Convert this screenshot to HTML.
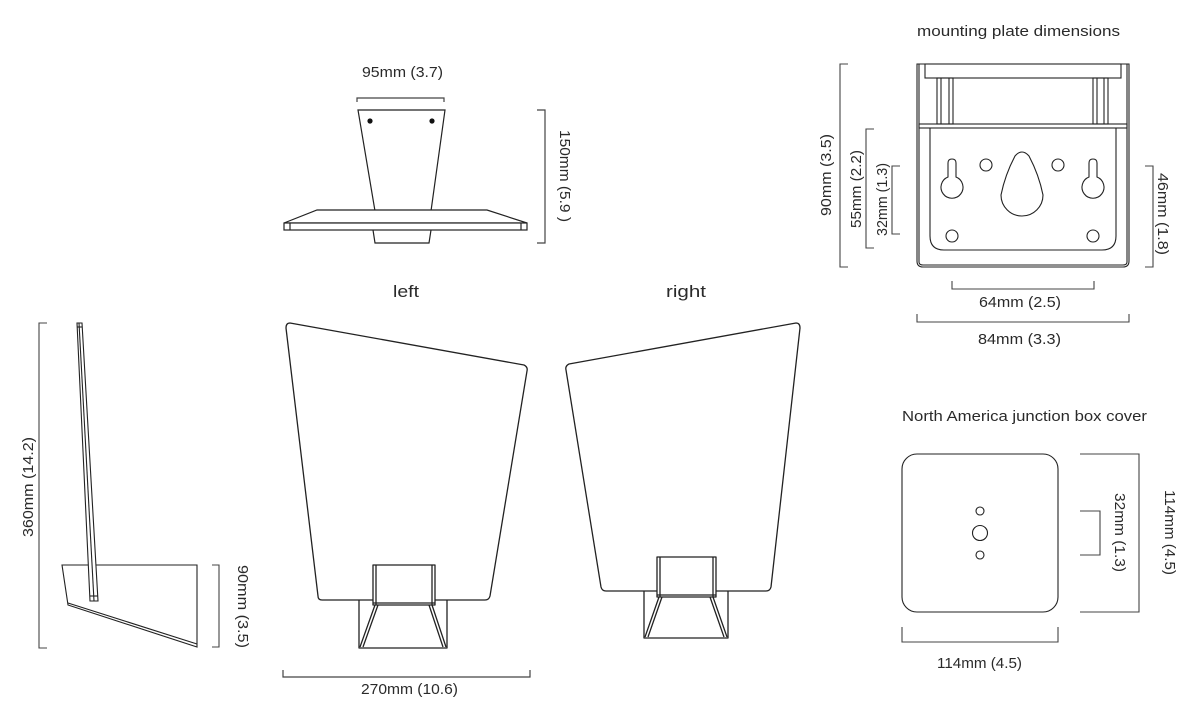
<!DOCTYPE html>
<html><head><meta charset="utf-8"><style>
html,body{margin:0;padding:0;background:#fff;}
svg{display:block;}
text{font-family:"Liberation Sans",sans-serif;font-size:15px;fill:#2a2a2a;}
</style></head><body>
<svg width="1195" height="708" viewBox="0 0 1195 708" xmlns="http://www.w3.org/2000/svg">
<g fill="none" stroke="#222" stroke-width="1.2">
<!-- top view -->
<polyline points="357,102 357,98 444,98 444,102" stroke="#444"/>
<polygon points="358,110 445,110 431,211 375,211" fill="#fff"/>
<polygon points="317,210 487,210 527,223 284,223" fill="#fff"/>
<rect x="284" y="223" width="243" height="7" fill="#fff"/>
<line x1="290" y1="223" x2="290" y2="230"/><line x1="521" y1="223" x2="521" y2="230"/>
<polyline points="373,230 375,243 429,243 431,230"/>
<polyline points="537,110 545,110 545,243 537,243" stroke="#444"/>
</g>
<circle cx="370" cy="121" r="2.6" fill="#111"/><circle cx="432" cy="121" r="2.6" fill="#111"/>
<text x="362" y="77" textLength="81" lengthAdjust="spacingAndGlyphs">95mm (3.7)</text>
<text transform="translate(560,130) rotate(90)" textLength="92" lengthAdjust="spacingAndGlyphs">150mm (5.9 )</text>

<text x="393" y="297" textLength="26" lengthAdjust="spacingAndGlyphs" style="font-size:17px">left</text>
<text x="666" y="297" textLength="40" lengthAdjust="spacingAndGlyphs" style="font-size:17px">right</text>

<g fill="none" stroke="#222" stroke-width="1.3" stroke-linejoin="round">
<!-- left shade -->
<path d="M290,323 L524,365 Q528,367 527,371 L490,596 Q489,600 485,600 L322,600 Q318,600 318,596 L286,328 Q286,323 290,323 Z" fill="#fff"/>
<polyline points="359,600 359,648 447,648 447,600"/>
<rect x="373" y="565" width="62" height="40" fill="#fff"/>
<line x1="376" y1="565" x2="376" y2="605"/><line x1="432" y1="565" x2="432" y2="605"/>
<line x1="373" y1="603" x2="435" y2="603"/>
<line x1="375" y1="605" x2="360" y2="647"/><line x1="378" y1="605" x2="363" y2="647"/>
<line x1="432" y1="605" x2="446" y2="647"/><line x1="429" y1="605" x2="443" y2="647"/>
<!-- right shade -->
<path d="M796,323 L569,364 Q565,366 566,370 L601,587 Q602,591 606,591 L766,591 Q770,591 771,587 L800,328 Q800,323 796,323 Z" fill="#fff"/>
<polyline points="644,591 644,638 728,638 728,591"/>
<rect x="657" y="557" width="59" height="40" fill="#fff"/>
<line x1="660" y1="557" x2="660" y2="597"/><line x1="713" y1="557" x2="713" y2="597"/>
<line x1="657" y1="595" x2="716" y2="595"/>
<line x1="659" y1="597" x2="645" y2="637"/><line x1="662" y1="597" x2="648" y2="637"/>
<line x1="713" y1="597" x2="727" y2="637"/><line x1="710" y1="597" x2="724" y2="637"/>
</g>
<polyline points="283,670 283,677 530,677 530,670" fill="none" stroke="#444" stroke-width="1.2"/>
<text x="361" y="694" textLength="97" lengthAdjust="spacingAndGlyphs">270mm (10.6)</text>

<!-- side view -->
<g fill="none" stroke="#222" stroke-width="1.1">
<polyline points="47,323 39,323 39,648 47,648" stroke="#444"/>
<polygon points="62,565 197,565 197,647 68,605"/>
<line x1="68" y1="603" x2="197" y2="644"/>
<polygon points="77,323 82,323 98,601 90,601" fill="#fff"/>
<line x1="79" y1="323" x2="94" y2="601"/>
<line x1="77" y1="327" x2="82" y2="327"/>
<line x1="90" y1="596" x2="98" y2="596"/>
<polyline points="212,565 219,565 219,647 212,647" stroke="#444"/>
</g>
<text transform="translate(33,537) rotate(-90)" textLength="100" lengthAdjust="spacingAndGlyphs">360mm (14.2)</text>
<text transform="translate(238,565) rotate(90)" textLength="83" lengthAdjust="spacingAndGlyphs">90mm (3.5)</text>

<!-- mounting plate -->
<text x="917" y="36" textLength="203" lengthAdjust="spacingAndGlyphs">mounting plate dimensions</text>
<g fill="none" stroke="#222" stroke-width="1.1">
<path d="M917,64 L1129,64 L1129,261 Q1129,267 1123,267 L923,267 Q917,267 917,261 Z"/>
<path d="M919,64 L919,262 Q919,265 923,265 L1123,265 Q1127,265 1127,262 L1127,64"/>
<rect x="925" y="64" width="196" height="14"/>
<rect x="937" y="78" width="16" height="46"/><line x1="941" y1="78" x2="941" y2="124"/><line x1="949" y1="78" x2="949" y2="124"/>
<rect x="1093" y="78" width="15" height="46"/><line x1="1097" y1="78" x2="1097" y2="124"/><line x1="1104" y1="78" x2="1104" y2="124"/>
<rect x="919" y="124" width="208" height="4"/>
<path d="M930,128 L930,236 Q930,250 944,250 L1102,250 Q1116,250 1116,236 L1116,128"/>
<path d="M948,163 Q948,159 952,159 Q956,159 956,163 L956,177 A11,11 0 1 1 948,177 Z"/>
<path d="M1089,163 Q1089,159 1093,159 Q1097,159 1097,163 L1097,177 A11,11 0 1 1 1089,177 Z"/>
<path d="M1015,156 Q1022,148 1029,156 Q1039,175 1043,195 A21,21 0 1 1 1001,195 Q1005,175 1015,156 Z"/>
<circle cx="986" cy="165" r="6"/><circle cx="1058" cy="165" r="6"/>
<circle cx="952" cy="236" r="6"/><circle cx="1093" cy="236" r="6"/>
</g>
<g fill="none" stroke="#444" stroke-width="1.1">
<polyline points="848,64 840,64 840,267 848,267"/>
<polyline points="874,129 866,129 866,248 874,248"/>
<polyline points="900,166 892,166 892,234 900,234"/>
<polyline points="1145,166 1153,166 1153,267 1145,267"/>
<polyline points="952,281 952,289 1094,289 1094,281"/>
<polyline points="917,314 917,322 1129,322 1129,314"/>
</g>
<text transform="translate(831,216) rotate(-90)" textLength="82" lengthAdjust="spacingAndGlyphs">90mm (3.5)</text>
<text transform="translate(861,228) rotate(-90)" textLength="78" lengthAdjust="spacingAndGlyphs">55mm (2.2)</text>
<text transform="translate(887,236) rotate(-90)" textLength="73" lengthAdjust="spacingAndGlyphs">32mm (1.3)</text>
<text transform="translate(1158,173) rotate(90)" textLength="82" lengthAdjust="spacingAndGlyphs">46mm (1.8)</text>
<text x="979" y="307" textLength="82" lengthAdjust="spacingAndGlyphs">64mm (2.5)</text>
<text x="978" y="344" textLength="83" lengthAdjust="spacingAndGlyphs">84mm (3.3)</text>

<!-- junction box -->
<text x="902" y="421" textLength="245" lengthAdjust="spacingAndGlyphs">North America junction box cover</text>
<g fill="none" stroke="#222" stroke-width="1.1">
<rect x="902" y="454" width="156" height="158" rx="15"/>
<circle cx="980" cy="511" r="4"/><circle cx="980" cy="533" r="7.5"/><circle cx="980" cy="555" r="4"/>
</g>
<g fill="none" stroke="#444" stroke-width="1.1">
<polyline points="1080,454 1139,454 1139,612 1080,612"/>
<polyline points="1080,511 1100,511 1100,555 1080,555"/>
<polyline points="902,627 902,642 1058,642 1058,627"/>
</g>
<text transform="translate(1115,493) rotate(90)" textLength="79" lengthAdjust="spacingAndGlyphs">32mm (1.3)</text>
<text transform="translate(1165,490) rotate(90)" textLength="85" lengthAdjust="spacingAndGlyphs">114mm (4.5)</text>
<text x="937" y="668" textLength="85" lengthAdjust="spacingAndGlyphs">114mm (4.5)</text>
</svg>
</body></html>
